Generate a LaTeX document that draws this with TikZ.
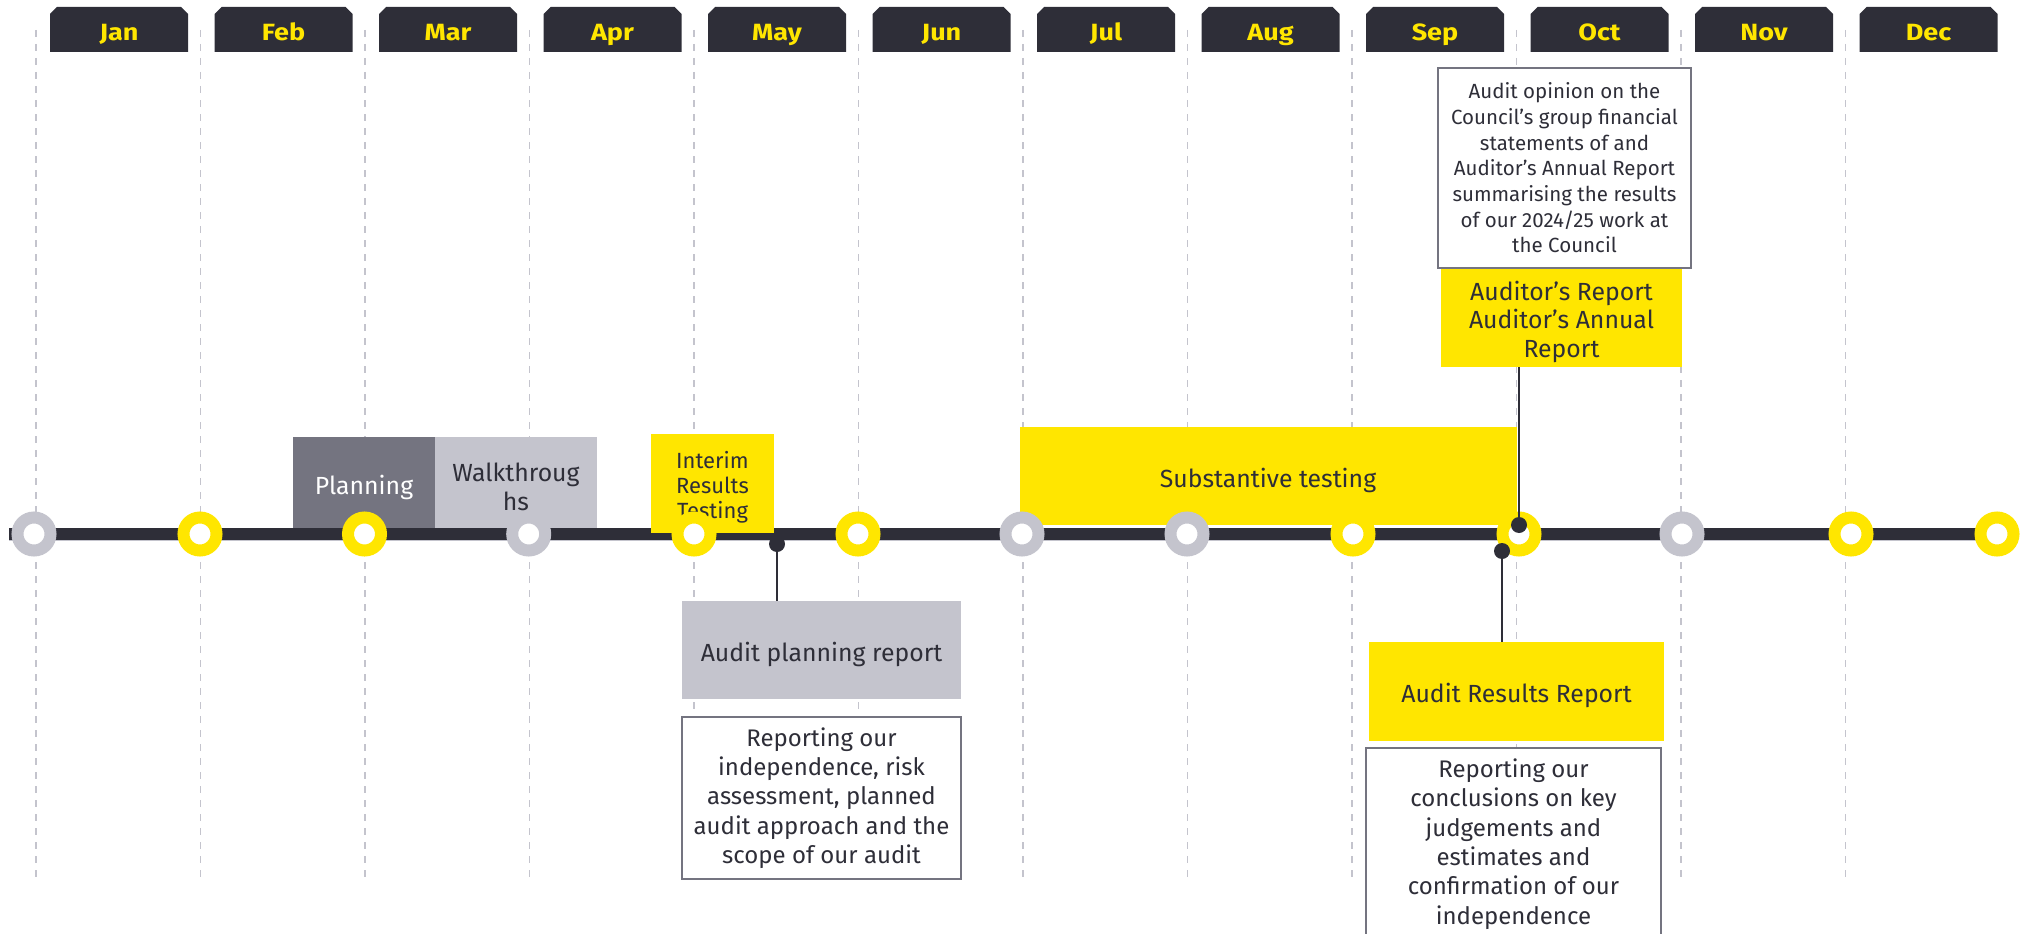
\documentclass[tikz,border=0pt]{standalone}
\usepackage{fontspec}
\setmainfont{Fira Sans}
\newfontfamily\hdrfont{Fira Sans}[FakeStretch=1.15]
\definecolor{eynavy}{HTML}{2E2E38}
\definecolor{eyyellow}{HTML}{FFE600}
\definecolor{eylgray}{HTML}{C4C4CD}
\definecolor{eymgray}{HTML}{747480}
\begin{document}
\begin{tikzpicture}[x=1pt,y=-1pt,
  gridline/.style={eylgray, line width=1.3pt, dash pattern=on 7pt off 7pt},
  hdrshape/.style={fill=eynavy},
  hdrtext/.style={text=eyyellow, font=\hdrfont\fontsize{23.5}{26}\bfseries, anchor=base, inner sep=0pt},
  box/.style={rectangle, inner sep=0pt},
  lbl/.style={inner sep=0pt, align=center, text=eynavy, yshift=-4pt, font=\fontsize{24.8}{29}\selectfont},
  note/.style={inner sep=0pt, align=center, text=eynavy, font=\fontsize{24}{29.3}\selectfont},
  notebox/.style={box, fill=white, draw=eymgray, line width=1.3pt},
  ring/.style={circle, fill=white, draw=#1, line width=12pt, minimum size=33pt, inner sep=0pt},
  dotnode/.style={circle, fill=eynavy, minimum size=16pt, inner sep=0pt},
  conn/.style={eynavy, line width=1.5pt}
]
\useasboundingbox (0,0) rectangle (2027,934);
% grid lines
\foreach \k in {0,...,11}
  \draw[gridline] ({36+164.5*\k},30) -- ({36+164.5*\k},877);
% month headers
\foreach \m [count=\k from 0] in {Jan,Feb,Mar,Apr,May,Jun,Jul,Aug,Sep,Oct,Nov,Dec}{
  \pgfmathsetmacro\hx{50+164.5*\k}
  \fill[hdrshape] (\hx,52) -- (\hx,14) -- (\hx+7,7) -- (\hx+131,7) -- (\hx+138,14) -- (\hx+138,52) -- cycle;
  \node[hdrtext] (m\k) at (\hx+69,41) {\m};
}
% phase boxes
\node[box, fill=eymgray, minimum width=142pt, minimum height=92pt] (plan) at (364,483) {};
\node[lbl, text=white] (planT) at (plan.center) {Planning};
\node[box, fill=eylgray, minimum width=162pt, minimum height=92pt] (walk) at (516,483) {};
\node[lbl] (walkT) at (walk.center) {Walkthroug\\hs};
\node[box, fill=eyyellow, minimum width=497pt, minimum height=98pt] (subst) at (1268,476) {};
\node[lbl] (substT) at (subst.center) {Substantive testing};
% timeline bar
\draw[eynavy, line width=12pt] (9,534) -- (1997,534);
\draw[eylgray, line width=1pt] (9,540.5) -- (1997,540.5);
\node[box, fill=eyyellow, minimum width=123pt, minimum height=99pt] (interim) at (712.5,483.5) {};
\node[lbl, font=\fontsize{22}{25}\selectfont] (interimT) at (interim.center) {Interim\\Results\\Testing};
% rings
\foreach \x/\c [count=\i] in {34/eylgray,200/eyyellow,364.5/eyyellow,528.7/eylgray,694/eyyellow,858/eyyellow,1022/eylgray,1187/eylgray,1353/eyyellow,1519/eyyellow,1682/eylgray,1851/eyyellow,1997/eyyellow}
  \node[ring=\c] (r\i) at (\x,534) {};
% report boxes
\node[box, fill=eylgray, minimum width=279pt, minimum height=98pt] (apr) at (821.5,650) {};
\node[lbl] (aprT) at (apr.center) {Audit planning report};
\node[notebox, minimum width=279pt, minimum height=162pt] (rep1) at (821.5,798) {};
\node[note] (rep1T) at (rep1.center) {Reporting our\\independence, risk\\assessment, planned\\audit approach and the\\scope of our audit};
\node[box, fill=eyyellow, minimum width=295pt, minimum height=99pt] (arr) at (1516.5,691.5) {};
\node[lbl] (arrT) at (arr.center) {Audit Results Report};
\node[notebox, minimum width=295pt, minimum height=192pt] (rep2) at (1513.5,844) {};
\node[note] (rep2T) at (rep2.center) {Reporting our\\conclusions on key\\judgements and\\estimates and\\confirmation of our\\independence};
\node[box, fill=eyyellow, minimum width=241pt, minimum height=99pt] (aur) at (1561.5,317.5) {};
\node[lbl, font=\fontsize{24.8}{28.5}\selectfont] (aurT) at (aur.center) {Auditor’s Report\\Auditor’s Annual\\Report};
\node[notebox, minimum width=253pt, minimum height=200pt] (opin) at (1564.5,168) {};
\node[note, font=\fontsize{20.5}{25.7}\selectfont] (opinT) at (opin.center) {Audit opinion on the\\Council’s group financial\\statements of and\\Auditor’s Annual Report\\summarising the results\\of our 2024/25 work at\\the Council};
% connectors
\node[dotnode] (d1) at (777,544) {};
\node[dotnode] (d2) at (1502,551) {};
\node[dotnode] (d3) at (1519,525) {};
\draw[conn] (d1.center) -- (d1.center |- apr.north);
\draw[conn] (d2.center) -- (d2.center |- arr.north);
\draw[conn] (d3.center) -- (d3.center |- aur.south);
\end{tikzpicture}
\end{document}
